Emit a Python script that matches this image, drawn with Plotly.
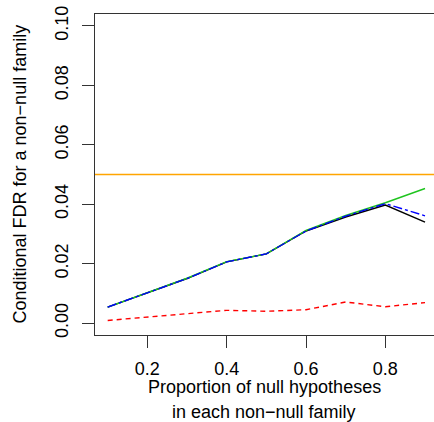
import plotly.graph_objects as go

# Proportion of null hypotheses in each non-null family
prop_null = [0.1, 0.2, 0.3, 0.4, 0.5, 0.6, 0.7, 0.8, 0.9]

# Conditional FDR estimates for each procedure
fdr_black = [0.0054, 0.0102, 0.0150, 0.0206, 0.0233, 0.0310, 0.0357, 0.0397, 0.0340]
fdr_green = [0.0054, 0.0102, 0.0151, 0.0207, 0.0233, 0.0312, 0.0362, 0.0405, 0.0453]
fdr_blue = [0.0054, 0.0102, 0.0150, 0.0206, 0.0233, 0.0310, 0.0360, 0.0402, 0.0361]
fdr_red = [0.0009, 0.0020, 0.0032, 0.0043, 0.0040, 0.0045, 0.0071, 0.0055, 0.0069]

# Nominal level
alpha = 0.05

x_ticks = [0.2, 0.4, 0.6, 0.8]
y_ticks = [0.00, 0.02, 0.04, 0.06, 0.08, 0.10]

x_title_lines = ["Proportion of null hypotheses", "in each non\u2212null family"]
y_title = "Conditional FDR for a non\u2212null family"

FONT = "Liberation Sans, Arial, Helvetica, sans-serif"

# plot-area geometry in pixels (used to place the axis titles)
L, T, B = 95, 14, 87
W, H = 434, 422
PW, PH = W - L, H - T - B

fig = go.Figure()
fig.add_trace(go.Scatter(x=prop_null, y=fdr_black, mode="lines",
                         line=dict(color="black", width=1.4)))
fig.add_trace(go.Scatter(x=prop_null, y=fdr_green, mode="lines",
                         line=dict(color="#1FC41F", width=1.4)))
fig.add_trace(go.Scatter(x=prop_null, y=fdr_blue, mode="lines",
                         line=dict(color="#0000FF", width=1.4, dash="dashdot")))
fig.add_trace(go.Scatter(x=prop_null, y=fdr_red, mode="lines",
                         line=dict(color="#FF0000", width=1.4, dash="5px,4px")))
fig.add_hline(y=alpha, line=dict(color="#FFA500", width=1.6))

fig.update_layout(
    width=W, height=H,
    margin=dict(l=L, r=0, t=T, b=B),
    paper_bgcolor="white", plot_bgcolor="white",
    showlegend=False,
    font=dict(family=FONT, size=18, color="black"),
    xaxis=dict(range=[0.068, 0.9226], tickvals=x_ticks,
               ticktext=["0.2", "0.4", "0.6", "0.8"],
               showgrid=False, zeroline=False,
               showline=True, mirror=True, linecolor="#333", linewidth=1,
               ticks="outside", ticklen=12, tickcolor="#333",
               ticklabelstandoff=5),
    yaxis=dict(range=[-0.004, 0.104], tickvals=y_ticks,
               ticktext=["0.00", "0.02", "0.04", "0.06", "0.08", "0.10"],
               tickangle=-90,
               showgrid=False, zeroline=False,
               showline=True, linecolor="#333", linewidth=1,
               ticks="outside", ticklen=12, tickcolor="#333",
               ticklabelstandoff=7),
)

# x-axis title, two lines
for line_text, y_px in zip(x_title_lines, [387, 412]):
    fig.add_annotation(text=line_text, xref="paper", yref="paper",
                       x=(264 - L) / PW, y=-(y_px - (H - B)) / PH,
                       xanchor="center", yanchor="middle", showarrow=False,
                       font=dict(family=FONT, size=18))

fig.add_annotation(text=y_title, xref="paper", yref="paper",
                   x=(19 - L) / PW, y=0.5, textangle=-90,
                   xanchor="center", yanchor="middle", showarrow=False,
                   font=dict(family=FONT, size=18))

fig.write_html("out.html")
